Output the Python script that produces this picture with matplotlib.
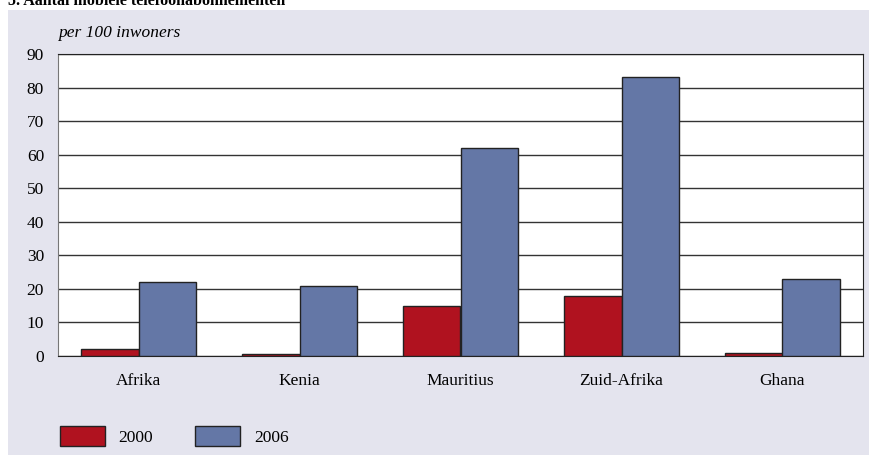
import matplotlib
matplotlib.use("Agg")
import matplotlib.pyplot as plt
import numpy as np
from matplotlib.patches import Rectangle, Patch

categories = ["Afrika", "Kenia", "Mauritius", "Zuid-Afrika", "Ghana"]
series_2000 = [2, 0.5, 15, 18, 1]
series_2006 = [22, 21, 62, 83, 23]
series_labels = ["2000", "2006"]
yticks = [0, 10, 20, 30, 40, 50, 60, 70, 80, 90]

RED = "#B0121F"
BLUE = "#6477A6"
BG = "#E4E4EE"

plt.rcParams["font.family"] = ["Liberation Serif", "DejaVu Serif"]

W, H = 870, 455
fig = plt.figure(figsize=(W / 100, H / 100), dpi=100)
fig.patches.append(Rectangle((8 / W, 0), 1 - 8 / W, 1 - 10 / H, transform=fig.transFigure,
                             facecolor=BG, edgecolor="none", zorder=-5))
fig.text(8 / W, 1 - 5 / H, "5. Aantal mobiele telefoonabonnementen", fontsize=11.5,
         fontweight="bold", va="baseline", ha="left")

ax = fig.add_axes([58 / W, 1 - 356 / H, (863 - 58) / W, (356 - 54) / H])
x = np.arange(len(categories))
bw = 0.357
ax.bar(x - bw / 2, series_2000, bw, color=RED, edgecolor="#222222", linewidth=1, zorder=3,
       label=series_labels[0])
ax.bar(x + bw / 2, series_2006, bw, color=BLUE, edgecolor="#222222", linewidth=1, zorder=3,
       label=series_labels[1])
ax.set_xlim(-0.5, len(categories) - 0.5)
ax.set_ylim(0, 90)
ax.set_yticks(yticks)
ax.set_xticks(x)
ax.set_xticklabels(categories)
ax.tick_params(axis="both", length=0, labelsize=12.5, pad=10)
ax.tick_params(axis="x", pad=12)
ax.yaxis.grid(True, color="#333333", linewidth=1)
ax.set_axisbelow(True)
for s in ["top", "right", "bottom"]:
    ax.spines[s].set_color("#222222")
ax.spines["left"].set_color("#777777")
ax.set_facecolor("white")

fig.text(58 / W, 1 - 33 / H, "per 100 inwoners", fontsize=12.5, style="italic",
         va="center", ha="left")

handles = [Patch(facecolor=RED, edgecolor="#222222", linewidth=1),
           Patch(facecolor=BLUE, edgecolor="#222222", linewidth=1)]
fig.legend(handles, series_labels, loc="lower left", bbox_to_anchor=(44 / W, -7 / H),
           ncol=2, frameon=False, fontsize=12.5, handlelength=2.6, handleheight=1.45,
           handletextpad=0.8, columnspacing=2.4)

fig.savefig("out.png", dpi=100)
